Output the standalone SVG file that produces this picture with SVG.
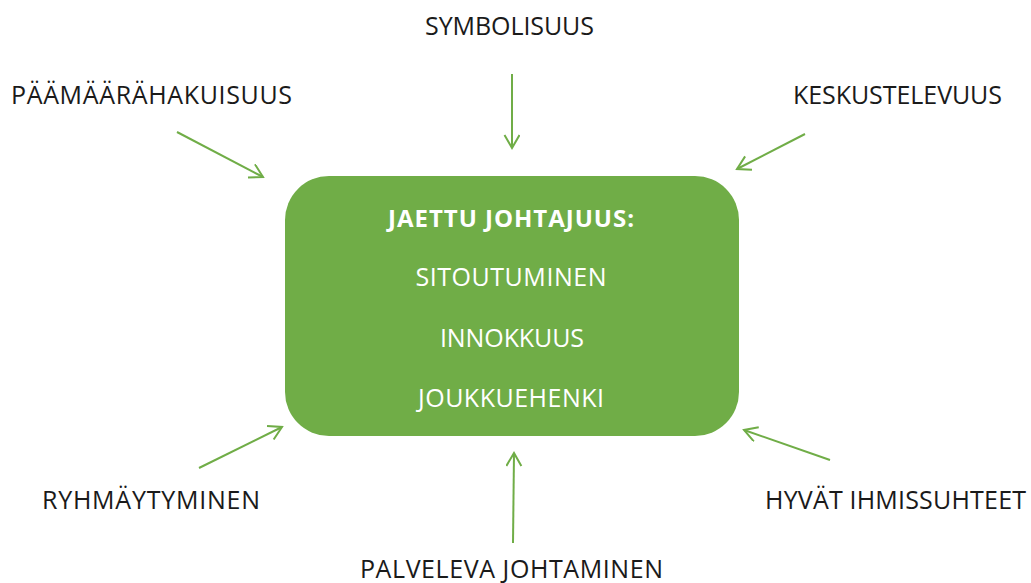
<svg xmlns="http://www.w3.org/2000/svg" width="1031" height="583" viewBox="0 0 1031 583">
  <style>
    .lbl { font-family: "Open Sans", "Liberation Sans", sans-serif; font-size: 25px; fill: #1a1a1a; }
    .in { font-family: "Open Sans", "Liberation Sans", sans-serif; font-size: 25px; fill: #ffffff; text-anchor: middle; }
    .title { font-weight: bold; font-size: 24px; }
    .conn { stroke: #70AD47; stroke-width: 2; fill: none; marker-end: url(#head); }
  </style>
  <defs>
    <marker id="head" markerWidth="20" markerHeight="20" refX="14" refY="8" orient="auto" markerUnits="userSpaceOnUse">
      <path d="M1,0.5 L14,8 L1,15.5" fill="none" stroke="#70AD47" stroke-width="2" stroke-linejoin="miter"/>
    </marker>
  </defs>
  <rect width="1031" height="583" fill="#ffffff"/>

  <g id="connectors">
    <line class="conn" x1="177" y1="132" x2="263" y2="177"/>
    <line class="conn" x1="512" y1="74" x2="512" y2="148"/>
    <line class="conn" x1="805" y1="134" x2="737" y2="169"/>
    <line class="conn" x1="199" y1="468" x2="282" y2="427"/>
    <line class="conn" x1="513" y1="543" x2="514" y2="453"/>
    <line class="conn" x1="830" y1="460" x2="744" y2="430"/>
  </g>

  <g id="center">
    <rect x="285" y="176" width="454" height="260" rx="44" ry="44" fill="#70AD47"/>
    <text class="in title" x="511" y="227" textLength="246">JAETTU JOHTAJUUS:</text>
    <text class="in" x="511" y="286" textLength="191">SITOUTUMINEN</text>
    <text class="in" x="512" y="347" textLength="144">INNOKKUUS</text>
    <text class="in" x="511" y="407" textLength="186">JOUKKUEHENKI</text>
  </g>

  <g id="symbolisuus"><text class="lbl" x="425" y="35" textLength="169">SYMBOLISUUS</text></g>
  <g id="paamaarahakuisuus"><text class="lbl" x="11" y="104" textLength="281">PÄÄMÄÄRÄHAKUISUUS</text></g>
  <g id="keskustelevuus"><text class="lbl" x="793" y="104" textLength="209">KESKUSTELEVUUS</text></g>
  <g id="ryhmaytyminen"><text class="lbl" x="42" y="509" textLength="218">RYHMÄYTYMINEN</text></g>
  <g id="hyvat-ihmissuhteet"><text class="lbl" x="765" y="509" textLength="261">HYVÄT IHMISSUHTEET</text></g>
  <g id="palveleva-johtaminen"><text class="lbl" x="360" y="578" textLength="303">PALVELEVA JOHTAMINEN</text></g>
</svg>
